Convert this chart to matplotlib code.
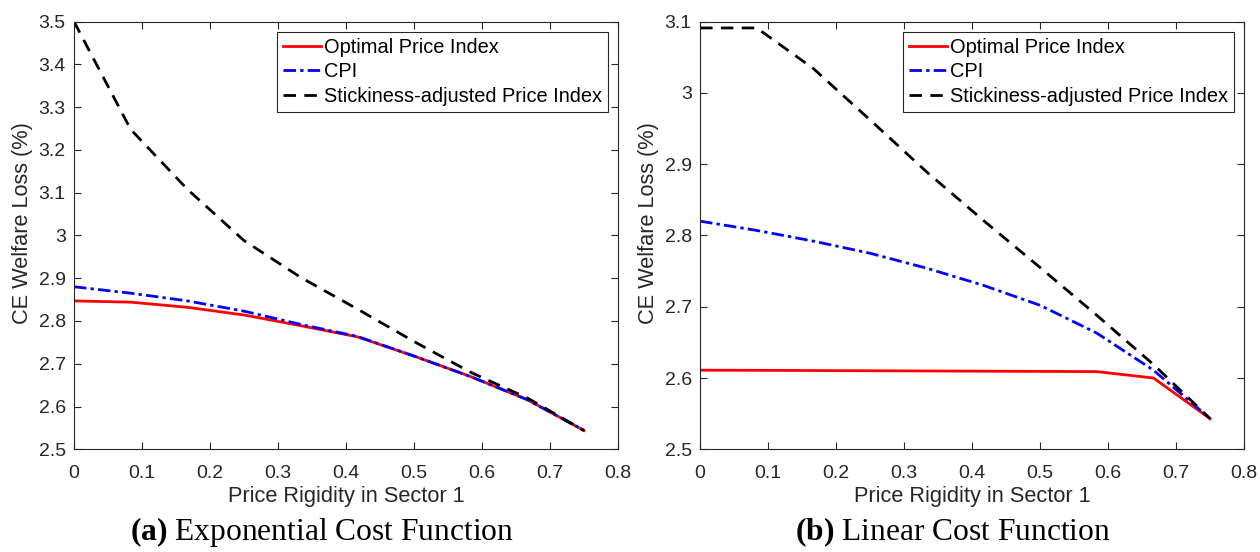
import numpy as np
import matplotlib
matplotlib.use('Agg')
import matplotlib.pyplot as plt
from matplotlib.ticker import FuncFormatter

plt.rcParams['font.family'] = ['Liberation Sans', 'DejaVu Sans']
plt.rcParams['mathtext.fontset'] = 'custom'
plt.rcParams['mathtext.rm'] = 'Liberation Serif'
plt.rcParams['mathtext.bf'] = 'Liberation Serif:bold'

# price rigidity grid (0 to 0.75 in steps of 1/12)
rigidity = [0, 1/12, 2/12, 3/12, 4/12, 5/12, 6/12, 7/12, 8/12, 9/12]

# (a) exponential cost function
exp_optimal = [2.847, 2.844, 2.832, 2.814, 2.789, 2.763, 2.718, 2.670, 2.616, 2.544]
exp_cpi = [2.880, 2.865, 2.847, 2.823, 2.792, 2.764, 2.718, 2.670, 2.616, 2.544]
exp_sticky = [3.500, 3.248, 3.108, 2.988, 2.902, 2.828, 2.752, 2.680, 2.620, 2.544]

# (b) linear cost function
lin_optimal = [2.611, 2.6108, 2.6105, 2.6102, 2.6099, 2.6096, 2.6093, 2.609, 2.600, 2.543]
lin_cpi = [2.820, 2.807, 2.792, 2.775, 2.754, 2.730, 2.702, 2.663, 2.611, 2.543]
lin_sticky = [3.091, 3.091, 3.034, 2.962, 2.889, 2.821, 2.755, 2.688, 2.619, 2.543]

labels = ['Optimal Price Index', 'CPI', 'Stickiness-adjusted Price Index']
captions = [r'$\mathbf{(a)}$ Exponential Cost Function', r'$\mathbf{(b)}$ Linear Cost Function']

fig = plt.figure(figsize=(12.6, 5.52), dpi=100)
ax1 = fig.add_axes([0.0587, 0.186, 0.4318, 0.775])
ax2 = fig.add_axes([0.5556, 0.186, 0.4318, 0.775])

panels = [
    (ax1, exp_optimal, exp_cpi, exp_sticky, (2.5, 3.5), np.arange(2.5, 3.51, 0.1)),
    (ax2, lin_optimal, lin_cpi, lin_sticky, (2.5, 3.1), np.arange(2.5, 3.11, 0.1)),
]

gray = '#262626'
fmt = FuncFormatter(lambda v, p: '%g' % round(v, 2))
for ax, opt, cpi, sticky, ylim, yticks in panels:
    ax.plot(rigidity, opt, color='red', lw=2.0, label=labels[0])
    ax.plot(rigidity, cpi, color='blue', lw=2.0, ls=(0, (4.5, 1.5, 1.2, 1.5)), label=labels[1])
    ax.plot(rigidity, sticky, color='black', lw=2.0, ls=(0, (4.5, 3)), label=labels[2])
    ax.set_xlim(0, 0.8)
    ax.set_ylim(*ylim)
    ax.set_xticks(np.arange(0, 0.81, 0.1))
    ax.set_yticks(yticks)
    ax.xaxis.set_major_formatter(fmt)
    ax.yaxis.set_major_formatter(fmt)
    ax.tick_params(direction='in', top=True, right=True, length=5, width=0.8,
                   labelsize=14, colors=gray)
    ax.tick_params(axis='x', pad=11)
    ax.tick_params(axis='y', pad=6)
    for s in ax.spines.values():
        s.set_color(gray)
        s.set_linewidth(0.8)
    ax.set_xlabel('Price Rigidity in Sector 1', fontsize=15.7, color=gray, va='center')
    ax.set_ylabel('CE Welfare Loss (%)', fontsize=15.7, color=gray, va='center')
    ax.xaxis.set_label_coords(0.5, -0.111)
    ax.yaxis.set_label_coords(-0.094, 0.53)
    leg = ax.legend(loc='upper right', fontsize=14.4, frameon=True, fancybox=False,
                    edgecolor=gray, framealpha=1, handlelength=1.9, handletextpad=0.15,
                    borderpad=0.3, labelspacing=0.28, borderaxespad=0.5)
    leg.get_frame().set_linewidth(0.8)

fig.text(0.2556, 0.022, captions[0], fontsize=22.7, family='Liberation Serif', ha='center', va='baseline')
fig.text(0.756, 0.022, captions[1], fontsize=22.7, family='Liberation Serif', ha='center', va='baseline')

fig.savefig('out.png', dpi=100)
